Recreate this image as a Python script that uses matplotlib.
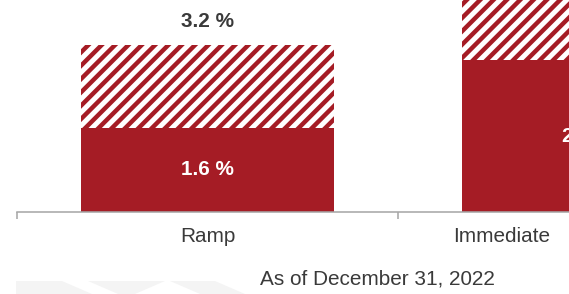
import matplotlib.pyplot as plt
import matplotlib.transforms as mtransforms
from matplotlib.patches import Polygon

# dados
categorias = ["Ramp", "Immediate"]
base = [1.6, 2.9]
total = [3.2, 5.8]
extra = [t - b for t, b in zip(total, base)]

vermelho = "#a51c25"
cinza_txt = "#3a3a3a"

plt.rcParams['font.family'] = ['Liberation Sans', 'DejaVu Sans']
plt.rcParams['hatch.linewidth'] = 4.0

dpi = 80
fig = plt.figure(figsize=(569 / dpi, 294 / dpi), dpi=dpi, facecolor="white")

# marca d'agua discreta no rodape
for pts in [[(16, 281), (62, 281), (92, 294), (16, 294)],
            [(88, 281), (165, 281), (135, 294), (118, 294)],
            [(170, 281), (215, 281), (245, 294), (200, 294)]]:
    fig.patches.append(Polygon([(x / 569, 1 - y / 294) for x, y in pts],
                               closed=True, transform=fig.transFigure,
                               facecolor="#f4f4f4", edgecolor="none", zorder=0))

ax = fig.add_axes([17 / 569, 82.3 / 294, 762 / 569, 211.7 / 294])
ax.set_facecolor("none")

x = range(len(categorias))
ax.bar(x, base, width=0.664, color=vermelho, linewidth=0)
ax.bar(x, extra, bottom=base, width=0.664, facecolor="white",
       edgecolor=vermelho, hatch="//", linewidth=0)

ax.set_xlim(-0.5, 1.5)
ax.set_ylim(0, 211.7 / 52.2)

for i in x:
    ax.text(i, base[i] / 2, f"{base[i]:.1f} %", ha="center", va="center",
            color="white", fontsize=18.7, fontweight="bold")
    ax.annotate(f"{total[i]:.1f} %", (i, total[i]), xytext=(0, 21),
                textcoords="offset points", ha="center", va="center",
                color=cinza_txt, fontsize=18.7, fontweight="bold")

for s in ["top", "right", "left"]:
    ax.spines[s].set_visible(False)
ax.spines["bottom"].set_color("#a6a6a6")
ax.spines["bottom"].set_linewidth(1.4)
ax.set_yticks([])

ax.set_xticks(list(x))
ax.set_xticklabels(categorias, fontsize=18.7, color=cinza_txt)
ax.tick_params(axis="x", which="major", length=0, pad=14)
ax.set_xticks([-0.5, 0.5, 1.5], minor=True)
ax.tick_params(axis="x", which="minor", length=6, width=1.4, color="#a6a6a6")

# o rotulo longo da segunda categoria comeca mais a esquerda na referencia
lbl = ax.get_xticklabels()[1]
lbl.set_transform(lbl.get_transform() +
                  mtransforms.ScaledTranslation(-87 / dpi, 0, fig.dpi_scale_trans))

fig.text(377 / 569, 1 - 279 / 294, "As of December 31, 2022", ha="center",
         va="center", fontsize=18.7, color=cinza_txt)

fig.savefig("out.png", dpi=dpi)
